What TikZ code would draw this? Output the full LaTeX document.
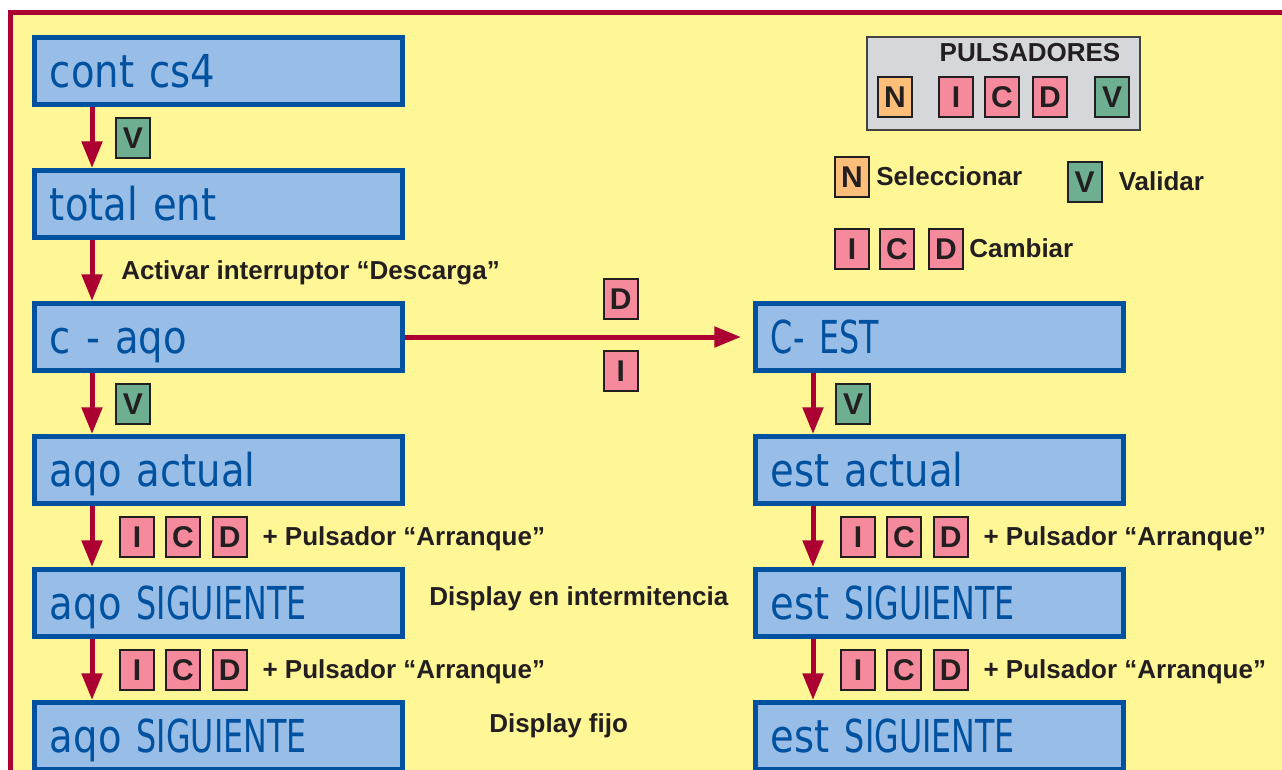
\documentclass[tikz,border=0pt]{standalone}
\usepackage{fontspec}
\setmainfont{Liberation Sans}
\newfontfamily\lcdfont{DejaVu Sans}[FakeStretch=0.85]
\newfontfamily\lcdcaps{DejaVu Sans}[FakeStretch=0.7]
\usetikzlibrary{arrows.meta, positioning, calc}
\definecolor{fondo}{RGB}{255,246,150}
\definecolor{granate}{RGB}{172,0,50}
\definecolor{celeste}{RGB}{152,189,230}
\definecolor{azul}{RGB}{0,82,160}
\definecolor{rosa}{RGB}{244,138,155}
\definecolor{verde}{RGB}{110,174,145}
\definecolor{naranja}{RGB}{253,190,122}
\definecolor{gris}{RGB}{214,215,218}
\definecolor{tinta}{RGB}{35,31,32}
\tikzset{
    display/.style={rectangle, draw=azul, fill=celeste, line width=3.75pt, minimum width=276pt, minimum height=50.25pt, inner xsep=11.6pt, inner ysep=0pt, text width=252.8pt, align=left, text height=24.8pt, text depth=0pt, text=azul, font=\lcdfont\fontsize{34}{40}\selectfont},
    tecla/.style={rectangle, draw=tinta, line width=1.5pt, minimum width=25.5pt, minimum height=30pt, inner sep=0pt, text height=16.1pt, text depth=0pt, text=tinta, font=\bfseries\fontsize{22.5}{24}\selectfont},
    teclan/.style={tecla, fill=naranja},
    teclap/.style={tecla, fill=rosa},
    teclav/.style={tecla, fill=verde},
    etiqueta/.style={inner sep=0pt, text height=14pt, text depth=0pt, text=tinta, font=\bfseries\fontsize{19.5}{22}\selectfont},
    flecha/.style={granate, line width=3.75pt, -{Triangle[length=20pt, width=15pt]}},
}

\begin{document}
\begin{tikzpicture}[x=0.75pt, y=-0.75pt]
\useasboundingbox (0,0) rectangle (1282,769);
\clip (0,0) rectangle (1282,769);
% Marco
\draw[granate, line width=3.75pt, fill=fondo] (10.5,12.5) rectangle (1300,800);

% Columna izquierda - displays del año
\node[display] at (218.5,71) (cont) {cont cs4};
\node[display, below=45.75pt of cont] (total) {total ent};
\node[display, below=45.75pt of total] (caqo) {c - aqo};
\node[display, below=45.75pt of caqo] (aqoact) {aqo actual};
\node[display, below=45.75pt of aqoact] (aqosig) {aqo {\lcdcaps SIGUIENTE}};
\node[display, below=45.75pt of aqosig] (aqofijo) {aqo {\lcdcaps SIGUIENTE}};

% Columna derecha - displays de la estación
\node[display, right=261pt of caqo] (cest) {{\lcdcaps C- EST}};
\node[display, below=45.75pt of cest] (estact) {est actual};
\node[display, below=45.75pt of estact] (estsig) {est {\lcdcaps SIGUIENTE}};
\node[display, below=45.75pt of estsig] (estfijo) {est {\lcdcaps SIGUIENTE}};

% Flechas columna izquierda
\draw[flecha] ([xshift=45pt]cont.south west) -- coordinate (m1) ([xshift=45pt]total.north west);
\draw[flecha] ([xshift=45pt]total.south west) -- coordinate (m2) ([xshift=45pt]caqo.north west);
\draw[flecha] ([xshift=45pt]caqo.south west) -- coordinate (m3) ([xshift=45pt]aqoact.north west);
\draw[flecha] ([xshift=45pt]aqoact.south west) -- coordinate (m4) ([xshift=45pt]aqosig.north west);
\draw[flecha] ([xshift=45pt]aqosig.south west) -- coordinate (m5) ([xshift=45pt]aqofijo.north west);

% Flechas columna derecha
\draw[flecha] ([xshift=45pt]cest.south west) -- coordinate (n1) ([xshift=45pt]estact.north west);
\draw[flecha] ([xshift=45pt]estact.south west) -- coordinate (n2) ([xshift=45pt]estsig.north west);
\draw[flecha] ([xshift=45pt]estsig.south west) -- coordinate (n3) ([xshift=45pt]estfijo.north west);

% Flecha horizontal c - aqo -> C- EST
\draw[flecha, shorten >=9pt] (caqo.east) -- node[teclap, pos=0.62, above=12.75pt] (dh) {D} node[teclap, pos=0.62, below=9.75pt] (ih) {I} (cest.west);

% Teclas y textos junto a las flechas
\node[teclav, right=17.25pt of m1] (v1) {V};
\node[etiqueta, right=21.75pt of m2] (activar) {Activar interruptor “Descarga”};
\node[teclav, right=17.25pt of m3] (v3) {V};
\node[teclap, right=20.25pt of m4] (i4) {I};
\node[teclap, right=7.5pt of i4] (c4) {C};
\node[teclap, right=8pt of c4] (d4) {D};
\node[etiqueta, right=11pt of d4] (pul4) {+ Pulsador “Arranque”};
\node[teclap, right=20.25pt of m5] (i5) {I};
\node[teclap, right=7.5pt of i5] (c5) {C};
\node[teclap, right=8pt of c5] (d5) {D};
\node[etiqueta, right=11pt of d5] (pul5) {+ Pulsador “Arranque”};

\node[teclav, right=16.5pt of n1] (vn1) {V};
\node[teclap, right=20.25pt of n2] (in2) {I};
\node[teclap, right=7.5pt of in2] (cn2) {C};
\node[teclap, right=8pt of cn2] (dn2) {D};
\node[etiqueta, right=11pt of dn2] (puln2) {+ Pulsador “Arranque”};
\node[teclap, right=20.25pt of n3] (in3) {I};
\node[teclap, right=7.5pt of in3] (cn3) {C};
\node[teclap, right=8pt of cn3] (dn3) {D};
\node[etiqueta, right=11pt of dn3] (puln3) {+ Pulsador “Arranque”};

% Estado del display
\node[etiqueta, anchor=west] at ([xshift=18pt, yshift=4.9pt]aqosig.east) (intermit) {Display en intermitencia};
\node[etiqueta, anchor=west] at ([xshift=63pt, yshift=9.4pt]aqofijo.east) (fijo) {Display fijo};

% Cuadro de pulsadores
\node[rectangle, draw=tinta!85, fill=gris, line width=1.5pt, minimum width=204.75pt, minimum height=69.75pt] at (1003.5,83.5) (pulsadores) {};
\node[etiqueta] at (1030,52) (titulo) {PULSADORES};
\node[teclan] at (895,96.5) (pn) {N};
\node[teclap, right=18.75pt of pn] (pi) {I};
\node[teclap, right=7.5pt of pi] (pc) {C};
\node[teclap, right=9pt of pc] (pd) {D};
\node[teclav, right=19.5pt of pd] (pv) {V};

% Leyenda
\node[teclan] at (852,176.5) (ln) {N};
\node[etiqueta, right=4.5pt of ln] (lsel) {Seleccionar};
\node[teclav] at (1084.5,181.5) (lv) {V};
\node[etiqueta, right=12pt of lv] (lval) {Validar};
\node[teclap] at (852,248.5) (li) {I};
\node[teclap, right=6.75pt of li] (lc) {C};
\node[teclap, right=9.75pt of lc] (ld) {D};
\node[etiqueta, right=3.75pt of ld] (lcam) {Cambiar};
\end{tikzpicture}
\end{document}
